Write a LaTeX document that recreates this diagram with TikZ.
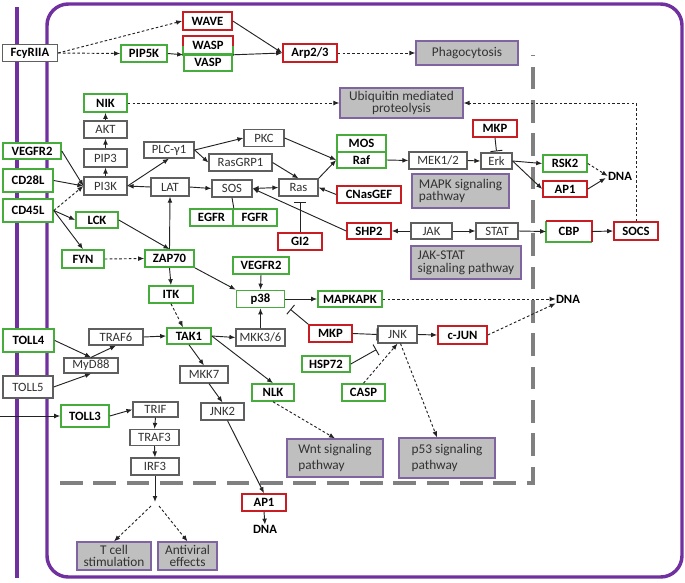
\documentclass[tikz,border=0pt]{standalone}
\usepackage{fontspec}
\setmainfont{Carlito}
\usetikzlibrary{arrows.meta,calc}
\definecolor{gr}{RGB}{70,172,60}
\definecolor{rd}{RGB}{200,30,35}
\definecolor{pu}{RGB}{112,48,160}
\definecolor{pfill}{RGB}{191,191,191}
\definecolor{pborder}{RGB}{128,100,162}
\definecolor{ln}{RGB}{35,35,35}
\definecolor{gbord}{RGB}{95,95,95}
\definecolor{dgray}{RGB}{128,128,128}
\definecolor{txt}{RGB}{50,50,50}
\begin{document}
\begin{tikzpicture}[x=0.75pt,y=-0.75pt,
  box/.style={rectangle, inner sep=0pt, fill=white, line width=1.2pt, font=\fontsize{9.5}{10}\selectfont\bfseries},
  gbox/.style={box, draw=gr},
  rbox/.style={box, draw=rd},
  nbox/.style={rectangle, inner sep=0pt, fill=white, draw=gbord, line width=0.9pt, text=txt, font=\fontsize{9.5}{10}\selectfont},
  pbox/.style={rectangle, inner sep=0pt, draw=pborder, fill=pfill, line width=0.9pt, text=txt, font=\fontsize{10}{9.5}\selectfont},
  sz/.style 2 args={minimum width=#1*0.75pt, minimum height=#2*0.75pt},
  dna/.style={inner sep=0pt, font=\fontsize{9.5}{10}\selectfont\bfseries},
  ar/.style={draw=ln, line width=0.7pt, -{Latex[length=4.5pt,width=3.6pt]}},
  dt/.style={ar, dash pattern=on 2pt off 1.6pt},
  inh/.style={draw=ln, line width=0.7pt, -{Bar[width=9pt]}},
  mem/.style={draw=pu, line width=2.6pt},
]
\useasboundingbox (0,0) rectangle (685,582);
% membranes
\draw[mem] (17,7) -- (17,578);
\draw[mem, rounded corners=16pt] (47,577) -- (47,4) -- (682,4) -- (682,577) -- cycle;
% nucleus dashed boundary
\draw[draw=dgray, line width=3pt, dash pattern=on 17pt off 8pt] (60,483) -- (533,483) -- (533,55);

% nodes
\node[nbox, font=\fontsize{9.5}{10}\selectfont\bfseries, text=black, sz={55}{17}] (FcyRIIA) at (30,53) {FcyRIIA};
\node[rbox, sz={49}{18}] (WAVE) at (207.5,21) {WAVE};
\node[box, sz={48}{17}] (WASP) at (208,45.5) {WASP};
\node[gbox, sz={48}{17}] (VASP) at (208,62.5) {VASP};
\draw[gr, line width=1.2pt] (WASP.west) -- (WASP.south west) -- (WASP.south east) -- (WASP.east);
\draw[rd, line width=1.2pt] (WASP.west) -- (WASP.north west) -- (WASP.north east) -- (WASP.east);
\node[gbox, sz={46}{17}] (PIP5K) at (144,53.5) {PIP5K};
\node[rbox, sz={54}{18}] (Arp) at (310,53) {Arp2/3};
\node[pbox, sz={102}{24}] (Phago) at (467,53) {Phagocytosis};
\node[gbox, sz={43}{18}] (NIK) at (105.5,103) {NIK};
\node[pbox, sz={123}{30}, align=center, font=\fontsize{10}{8.6}\selectfont] (Ubiq) at (401.5,103) {Ubiquitin mediated\\proteolysis};
\node[nbox, sz={43}{17}] (AKT) at (105.5,129.5) {AKT};
\node[nbox, sz={40}{17}] (PKC) at (264,138) {PKC};
\node[gbox, sz={58}{16}] (VEGFRa) at (32,151) {VEGFR2};
\node[gbox, sz={50}{23}] (CD28L) at (28,180.5) {CD28L};
\node[gbox, sz={50}{23}] (CD45L) at (28,210.5) {CD45L};
\node[nbox, sz={43}{18}] (PIP3) at (105.5,158) {PIP3};
\node[nbox, sz={43}{18}] (PI3K) at (105.5,186) {PI3K};
\node[nbox, sz={50}{16}] (PLC) at (169,150) {PLC-γ1};
\node[nbox, sz={63}{17}] (RasGRP1) at (240.5,162.5) {RasGRP1};
\node[nbox, sz={38}{18}] (LAT) at (170,187) {LAT};
\node[nbox, sz={40}{17}] (SOS) at (232,188.5) {SOS};
\node[nbox, sz={39}{17}] (Ras) at (298.5,187.5) {Ras};
\node[gbox, sz={43}{17}] (EGFR) at (211.5,217.5) {EGFR};
\node[gbox, sz={44}{17}] (FGFR) at (255,217.5) {FGFR};
\node[rbox, sz={44}{17}] (GI2) at (300,241.5) {GI2};
\node[gbox, sz={42}{16}] (LCK) at (97,220) {LCK};
\node[gbox, sz={42}{18}] (FYN) at (83,259) {FYN};
\node[gbox, sz={49}{17}] (ZAP70) at (169.5,258.5) {ZAP70};
\node[gbox, sz={56}{17}] (VEGFRb) at (261,265.5) {VEGFR2};
\node[gbox, sz={44}{17}] (ITK) at (171,294.5) {ITK};
\node[gbox, sz={48}{17}] (p38) at (260.5,299) {p38};
\node[gbox, sz={64}{16}] (MAPKAPK) at (350,299) {MAPKAPK};
\node[gbox, sz={49}{17}] (MOS) at (361.5,143.5) {MOS};
\node[gbox, sz={49}{16}] (Raf) at (361.5,160) {Raf};
\node[rbox, sz={64}{17}] (CNasGEF) at (369,194.5) {CNasGEF};
\node[nbox, sz={58}{17}] (MEK) at (438,160.5) {MEK1/2};
\node[nbox, sz={31}{16}] (Erk) at (496.5,161) {Erk};
\node[rbox, sz={44}{17}] (MKPa) at (495,128.5) {MKP};
\node[pbox, sz={97}{34}, align=left] (MAPKpw) at (460.5,191) {MAPK signaling\\pathway};
\node[gbox, sz={44}{17}] (RSK2) at (565,163.5) {RSK2};
\node[rbox, sz={44}{16}] (AP1a) at (565,189) {AP1};
\node[dna] (DNAa) at (620,176) {DNA};
\node[rbox, sz={44}{16}] (SHP2) at (369,231) {SHP2};
\node[nbox, sz={41}{16}] (JAK) at (431.5,231) {JAK};
\node[nbox, sz={42}{16}] (STAT) at (497,231) {STAT};
\node[box, sz={44}{19}] (CBP) at (569,231.5) {CBP};
\draw[gr, line width=1.2pt] (CBP.north west) -- (CBP.south west) -- (CBP.south east);
\draw[rd, line width=1.2pt] (CBP.north west) -- (CBP.north east) -- (CBP.south east);
\node[rbox, sz={44}{18}] (SOCS) at (636,231) {SOCS};
\node[pbox, sz={110}{33}, align=left] (JAKpw) at (466,262.5) {JAK-STAT\\signaling pathway};
\node[dna] (DNAb) at (568,299) {DNA};
\node[rbox, sz={43}{17}] (MKPb) at (330.5,333.5) {MKP};
\node[nbox, sz={39}{17}] (JNK) at (397.5,334.5) {JNK};
\node[rbox, sz={49}{18}] (cJUN) at (462.5,335) {c-JUN};
\node[gbox, sz={48}{16}] (HSP72) at (326,364) {HSP72};
\node[gbox, sz={43}{17}] (CASP) at (363.5,392.5) {CASP};
\node[gbox, sz={51}{23}] (TOLL4) at (28.5,340.5) {TOLL4};
\node[nbox, sz={54}{16}] (TRAF6) at (116,337) {TRAF6};
\node[gbox, sz={44}{16}] (TAK1) at (189,336) {TAK1};
\node[nbox, sz={49}{17}] (MKK36) at (260.5,337.5) {MKK3/6};
\node[nbox, sz={54}{15}] (MyD88) at (91,365.5) {MyD88};
\node[nbox, sz={50}{22}] (TOLL5) at (28,387) {TOLL5};
\node[nbox, sz={48}{17}] (MKK7) at (204,374.5) {MKK7};
\node[gbox, sz={42}{17}] (NLK) at (273,392.5) {NLK};
\node[gbox, sz={48}{22}] (TOLL3) at (85,416) {TOLL3};
\node[nbox, sz={45}{15}] (TRIF) at (155.5,409.5) {TRIF};
\node[nbox, sz={43}{17}] (JNK2) at (222.5,411.5) {JNK2};
\node[nbox, sz={49}{16}] (TRAF3) at (154.5,437.5) {TRAF3};
\node[nbox, sz={48}{17}] (IRF3) at (155,466.5) {IRF3};
\node[pbox, sz={96}{38}, align=left, font=\fontsize{10}{11.5}\selectfont] (Wnt) at (335,458) {Wnt signaling\\pathway};
\node[pbox, sz={96}{40}, align=left, font=\fontsize{10}{11.5}\selectfont] (p53) at (447,458) {p53 signaling\\pathway};
\node[rbox, sz={44}{17}] (AP1b) at (264,502.5) {AP1};
\node[dna] (DNAc) at (265,529) {DNA};
\node[pbox, sz={74}{28}, align=center, font=\fontsize{10}{8.8}\selectfont] (Tcell) at (114,556) {T cell\\stimulation};
\node[pbox, sz={59}{28}, align=center, font=\fontsize{10}{8.8}\selectfont] (Antiv) at (187.5,556) {Antiviral\\effects};

\coordinate (br) at (155,502);
\coordinate (in3) at (0,416);

% connectors
\draw[dt] (FcyRIIA.east) -- (WAVE.west);
\draw[dt] (FcyRIIA.east) -- (PIP5K.west);
\draw[ar] (PIP5K.east) -- (WASP.south west);
\draw[ar] (WAVE.east) -- (Arp.west);
\draw[ar] (WASP.south east) -- (Arp.west);
\draw[dt] (Arp.east) -- (Phago.west);
\draw[dt] (NIK.east) -- (Ubiq.west);
\draw[dt] (SOCS.north) |- (Ubiq.east);
\draw[ar] (PI3K.north) -- (PIP3.south);
\draw[ar] (PIP3.north) -- (AKT.south);
\draw[ar] (AKT.north) -- (NIK.south);
\draw[ar] (VEGFRa.east) -- (PI3K.west);
\draw[ar] (CD28L.east) -- (PI3K.west);
\draw[dt] (CD45L.east) -- (PI3K.west);
\draw[ar] (CD45L.east) -- (LCK.west);
\draw[ar] (CD45L.east) -- (FYN.north);
\draw[ar] (LAT.west) -- (PI3K.east);
\draw[ar] (PI3K.east) -- (PLC.south);
\draw[ar] (PLC.east) -- (PKC.west);
\draw[ar] (PLC.east) -- (RasGRP1.west);
\draw[ar] (PKC.east) -- (Raf.west);
\draw[ar] (RasGRP1.east) -- (Ras.north);
\draw[ar] (LAT.east) -- (SOS.west);
\draw[draw=ln, line width=0.7pt, {Latex[length=4.5pt,width=3.6pt]}-{Latex[length=4.5pt,width=3.6pt]}] (SOS.east) -- (Ras.west);
\draw[draw=ln, line width=0.7pt] (SOS.south) -- (EGFR.north east);
\draw[inh] (GI2.north) -- ($(GI2.north |- Ras.south)+(0,5)$);
\draw[ar] (Ras.north east) -- (Raf.west);
\draw[ar] (CNasGEF.west) -- (Ras.east);
\draw[ar] (SHP2.west) -- (SOS.east);
\draw[ar] (JAK.west) -- (SHP2.east);
\draw[ar] (JAK.east) -- (STAT.west);
\draw[ar] (STAT.east) -- (CBP.west);
\draw[ar] (CBP.east) -- (SOCS.west);
\draw[ar] (Raf.east) -- (MEK.west);
\draw[ar] (MEK.east) -- (Erk.west);
\draw[inh] (MKPa.south) -- ($(Erk.north)+(0,-1)$);
\draw[ar] (Erk.east) -- (RSK2.west);
\draw[ar] (Erk.east) -- (AP1a.west);
\draw[dt] (RSK2.east) -- (DNAa.west);
\draw[ar] (AP1a.east) -- ($(DNAa.west)+(-2,2)$);
\draw[ar] (LCK.east) -- (ZAP70.north);
\draw[dt] (FYN.east) -- (ZAP70.west);
\draw[ar] (ZAP70.north) -- (LAT.south);
\draw[ar] (ZAP70.south) -- (ITK.north);
\draw[ar] (ZAP70.south east) -- (p38.north west);
\draw[ar] (VEGFRb.south) -- (p38.north);
\draw[ar] (p38.east) -- (MAPKAPK.west);
\draw[dt] (MAPKAPK.east) -- (DNAb.west);
\draw[inh] (MKPb.north west) -- ($(p38.south east)+(5,1)$);
\draw[ar] (MKK36.north) -- (p38.south);
\draw[dt] (ITK.south) -- ($(TAK1.north)+(-6,0)$);
\draw[ar] (TOLL4.east) -- (MyD88.north);
\draw[ar] (TOLL5.east) -- (MyD88.south);
\draw[ar] (MyD88.north) -- (TRAF6.south);
\draw[ar] (TRAF6.east) -- (TAK1.west);
\draw[ar] (TAK1.east) -- (MKK36.west);
\draw[ar] (TAK1.south) -- (MKK7.north);
\draw[ar] (TAK1.east) -- (NLK.north);
\draw[ar] ($(MKK7.south)+(5,0)$) -- (JNK2.north);
\draw[ar] ($(JNK2.south)+(5,0)$) -- (AP1b.north);
\draw[ar] (AP1b.south) -- (DNAc.north);
\draw[dt] (NLK.south) -- (Wnt.north);
\draw[inh] (MKPb.east) -- (JNK.west);
\draw[inh] (HSP72.east) -- ($(JNK.south west)+(-1,6)$);
\draw[dt] (CASP.north) -- (JNK.south);
\draw[ar] (JNK.east) -- (cJUN.west);
\draw[dt] (cJUN.east) -- (DNAb.south west);
\draw[dt] ($(JNK.south)+(3,0)$) -- ($(p53.north)+(-10,0)$);
\draw[ar] (in3) -- (TOLL3.west);
\draw[ar] (TOLL3.east) -- (TRIF.west);
\draw[ar] (TRIF.south) -- (TRAF3.north);
\draw[ar] (TRAF3.south) -- (IRF3.north);
\draw[ar] (IRF3.south) -- (br);
\draw[dt] ($(br)+(-4,4)$) -- (Tcell.north);
\draw[dt] ($(br)+(4,4)$) -- (Antiv.north);
\end{tikzpicture}
\end{document}
